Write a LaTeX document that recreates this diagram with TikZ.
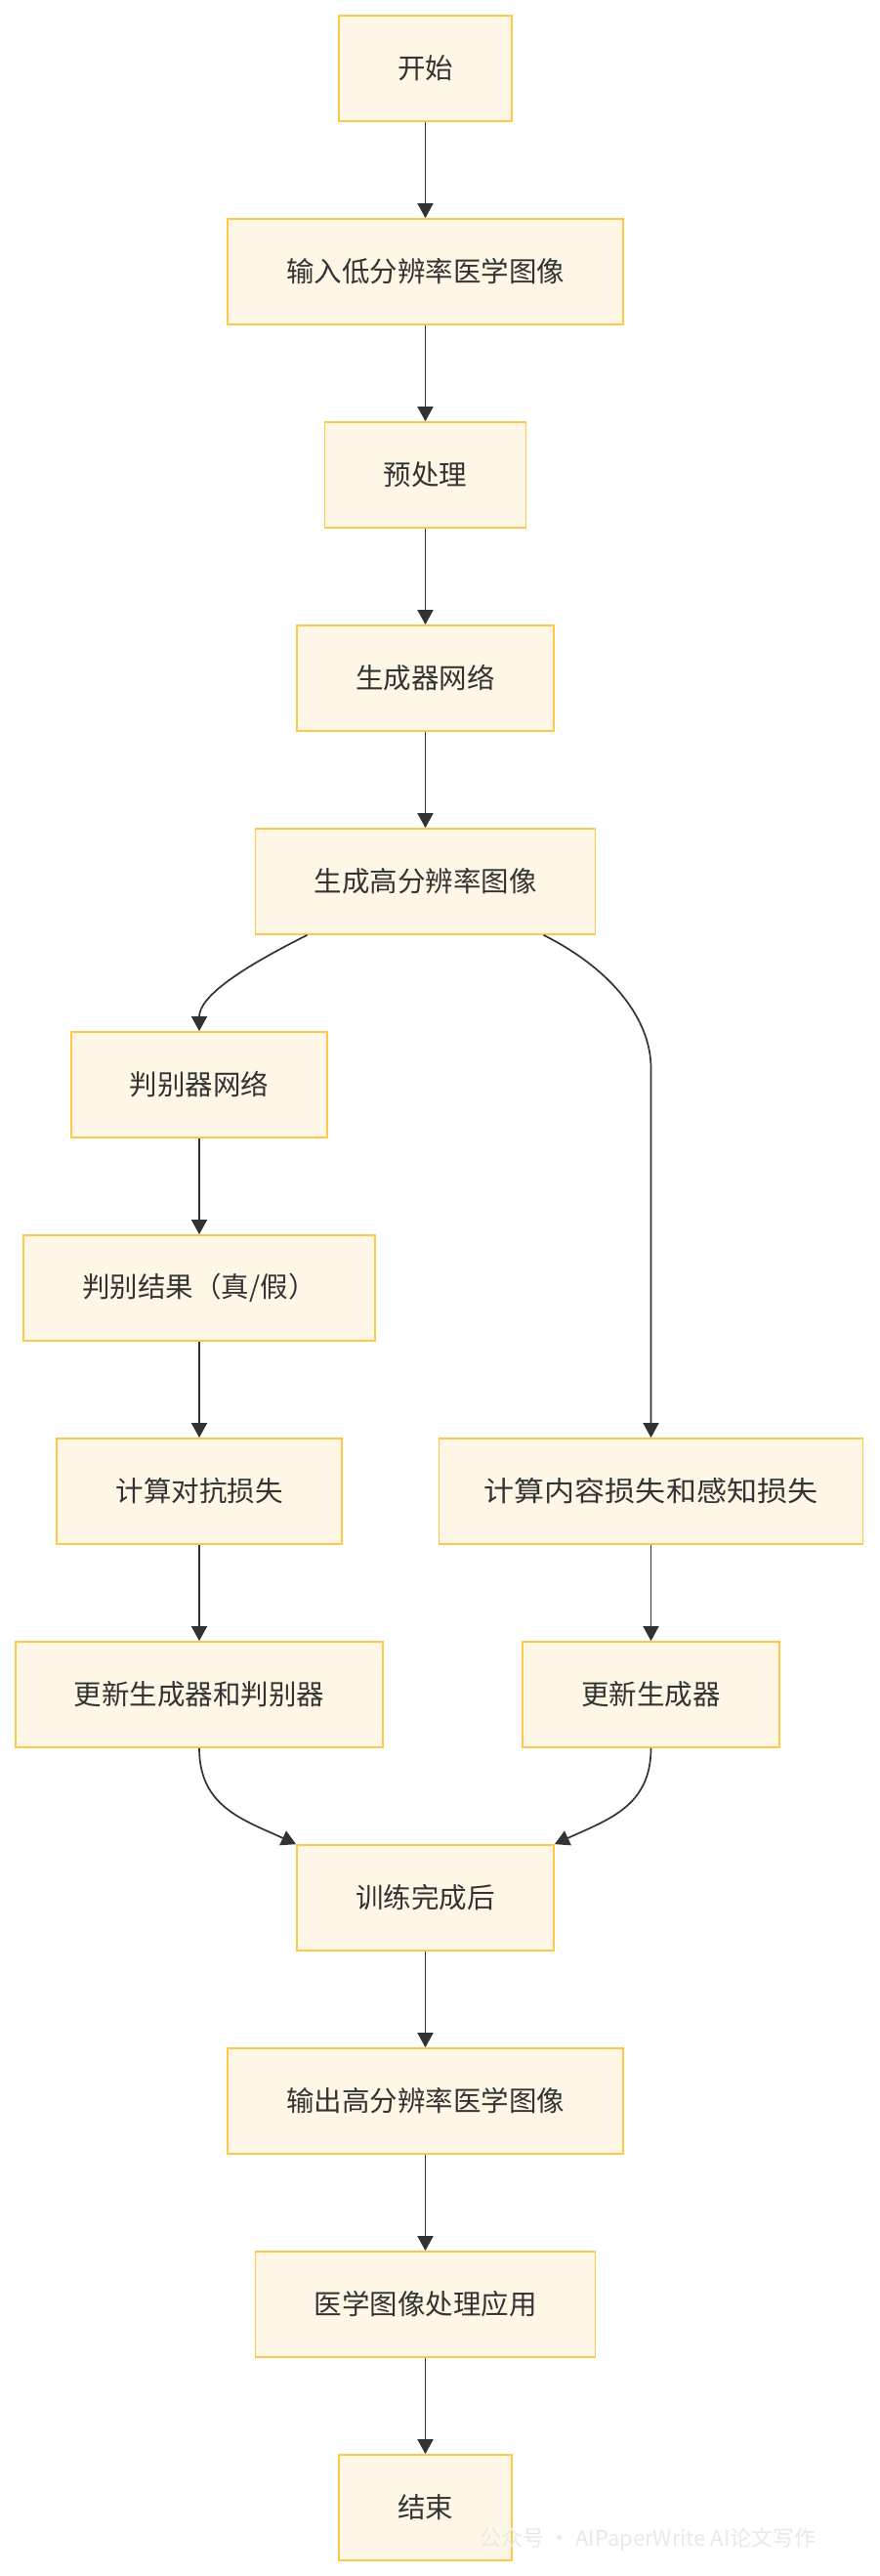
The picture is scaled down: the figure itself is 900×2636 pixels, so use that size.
\documentclass[tikz,border=0pt]{standalone}
\usepackage{fontspec}
\setmainfont{Noto Sans CJK SC}
\usetikzlibrary{arrows.meta}
\definecolor{boxfill}{HTML}{FFF7E6}
\definecolor{boxborder}{HTML}{FFC84A}
\definecolor{textcol}{HTML}{333333}
\definecolor{linecol}{HTML}{333333}
\tikzset{
  flowbox/.style={draw=boxborder, fill=boxfill, line width=1.7pt, minimum height=108pt,
    inner sep=0pt, text=textcol, font=\fontsize{28.5}{34}\selectfont},
  arr/.style={draw=linecol, line width=1.7pt, -{Triangle[length=15pt,width=16pt]}},
  wmark/.style={text=gray!18, font=\fontsize{22}{26}\selectfont}
}
\begin{document}
\begin{tikzpicture}[x=1pt,y=-1pt]
\useasboundingbox (0,0) rectangle (900,2636);
\node[flowbox, minimum width=177pt] (start) at (435.5,70) {开始};
\node[flowbox, minimum width=405.5pt] (input) at (435.5,278) {输入低分辨率医学图像};
\node[flowbox, minimum width=206pt] (pre) at (435.5,486) {预处理};
\node[flowbox, minimum width=263pt] (gen) at (435.5,694) {生成器网络};
\node[flowbox, minimum width=348pt] (genhr) at (435.5,902) {生成高分辨率图像};
\node[flowbox, minimum width=262pt] (disc) at (204,1110) {判别器网络};
\node[flowbox, minimum width=360.5pt] (res) at (204,1318) {判别结果（真/假）};
\node[flowbox, minimum width=291.4pt] (adv) at (204,1526) {计算对抗损失};
\node[flowbox, minimum width=434pt] (cont) at (666.5,1526) {\scalebox{1.09}[1]{计算内容损失和感知损失}};
\node[flowbox, minimum width=376.5pt] (upd) at (204,1734) {更新生成器和判别器};
\node[flowbox, minimum width=263pt] (updg) at (666.5,1734) {更新生成器};
\node[flowbox, minimum width=263pt] (train) at (435.5,1942) {训练完成后};
\node[flowbox, minimum width=405.5pt] (out) at (435.5,2150) {输出高分辨率医学图像};
\node[flowbox, minimum width=348pt] (app) at (435.5,2358) {医学图像处理应用};
\node[flowbox, minimum width=177pt] (end) at (435.5,2566) {结束};
\node[wmark, anchor=west] (wm) at (488,2599) {公众号 · AIPaperWrite AI论文写作};

\draw[arr] (start) -- (input);
\draw[arr] (input) -- (pre);
\draw[arr] (pre) -- (gen);
\draw[arr] (gen) -- (genhr);
\draw[arr] ([xshift=-121pt]genhr.south) .. controls +(-70,35) and +(0,-35) .. (disc.north);
\coordinate (rbend) at ([yshift=378pt]cont.north);
\draw[arr] ([xshift=121pt]genhr.south) .. controls +(70,35) and +(0,-50) .. (rbend) -- (cont.north);
\draw[arr] (disc) -- (res);
\draw[arr] (res) -- (adv);
\draw[arr] (adv) -- (upd);
\draw[arr] (cont) -- (updg);
\draw[arr] (upd.south) .. controls +(0,60) and +(-54,-25) .. (train.north west);
\draw[arr] (updg.south) .. controls +(0,60) and +(54,-25) .. (train.north east);
\draw[arr] (train) -- (out);
\draw[arr] (out) -- (app);
\draw[arr] (app) -- (end);
\end{tikzpicture}
\end{document}
